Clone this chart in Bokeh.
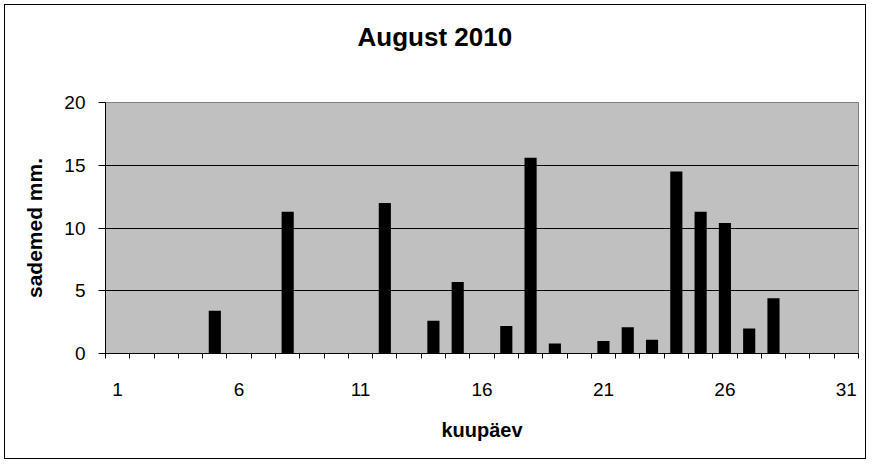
from bokeh.plotting import figure
from bokeh.models import FixedTicker, Range1d, ColumnDataSource, Title
from bokeh.embed import file_html
from bokeh.resources import INLINE

days = list(range(1, 32))
rain_mm = [0, 0, 0, 0, 3.4, 0, 0, 11.3, 0, 0,
           0, 12.0, 0, 2.6, 5.7, 0, 2.2, 15.6, 0.8, 0,
           1.0, 2.1, 1.1, 14.5, 11.3, 10.4, 2.0, 4.4, 0, 0, 0]
x_tick_labels = [1, 6, 11, 16, 21, 26, 31]
y_ticks = [0, 5, 10, 15, 20]

title_text = "August 2010"
x_title = "kuupäev"
y_title = "sademed mm."

FONT = "Liberation Sans"

x_range = Range1d(0.5, 31.5)
y_range = Range1d(0, 20)

p = figure(width=862, height=455, output_backend="svg", toolbar_location=None,
           x_range=x_range, y_range=y_range,
           min_border_left=100, min_border_right=9, min_border_top=97, min_border_bottom=107)
p.styles = {"border": "1px solid black", "margin": "4px 0px 0px 4px"}

src = ColumnDataSource(dict(day=days, mm=rain_mm))
p.vbar(x="day", top="mm", width=0.5, source=src, fill_color="black", line_color=None)

p.background_fill_color = "#C0C0C0"
p.border_fill_color = "white"
p.outline_line_color = "#808080"
p.outline_line_width = 1

p.xgrid.visible = False
p.ygrid.ticker = FixedTicker(ticks=[5, 10, 15])
p.ygrid.grid_line_color = "black"
p.ygrid.grid_line_width = 1

# chart title
p.title.text = title_text
p.title.align = "left"
p.title.offset = 252
p.title.standoff = 10
p.title.text_font = FONT
p.title.text_font_size = "26px"
p.title.text_font_style = "bold"
p.title.text_color = "black"

# blank spacer between the title and the plot area
spacer = Title(text=" ", text_font_size="2px", standoff=42)
p.add_layout(spacer, "above")

# x axis
xa = p.xaxis[0]
xa.ticker = FixedTicker(ticks=x_tick_labels, minor_ticks=[d - 0.5 for d in days] + [31.5])
xa.major_tick_out = 0
xa.major_tick_in = 0
xa.minor_tick_out = 5
xa.minor_tick_in = 0
xa.minor_tick_line_color = "black"
xa.axis_line_color = "black"
xa.major_label_standoff = 24
xa.major_label_text_font = FONT
xa.major_label_text_font_size = "19px"
xa.major_label_text_color = "black"
xa.axis_label = x_title
xa.axis_label_text_font = FONT
xa.axis_label_text_font_size = "20px"
xa.axis_label_text_font_style = "bold"
xa.axis_label_text_color = "black"
xa.axis_label_standoff = 20

# y axis
ya = p.yaxis[0]
ya.ticker = FixedTicker(ticks=y_ticks, minor_ticks=[])
ya.major_tick_out = 7
ya.major_tick_in = 0
ya.major_tick_line_color = "black"
ya.axis_line_color = "black"
ya.major_label_standoff = 13
ya.major_label_text_font = FONT
ya.major_label_text_font_size = "19px"
ya.major_label_text_color = "black"
ya.axis_label = y_title
ya.axis_label_text_font = FONT
ya.axis_label_text_font_size = "21px"
ya.axis_label_text_font_style = "bold"
ya.axis_label_text_color = "black"
ya.axis_label_standoff = 15

open("out.html", "w").write(file_html(p, INLINE))
